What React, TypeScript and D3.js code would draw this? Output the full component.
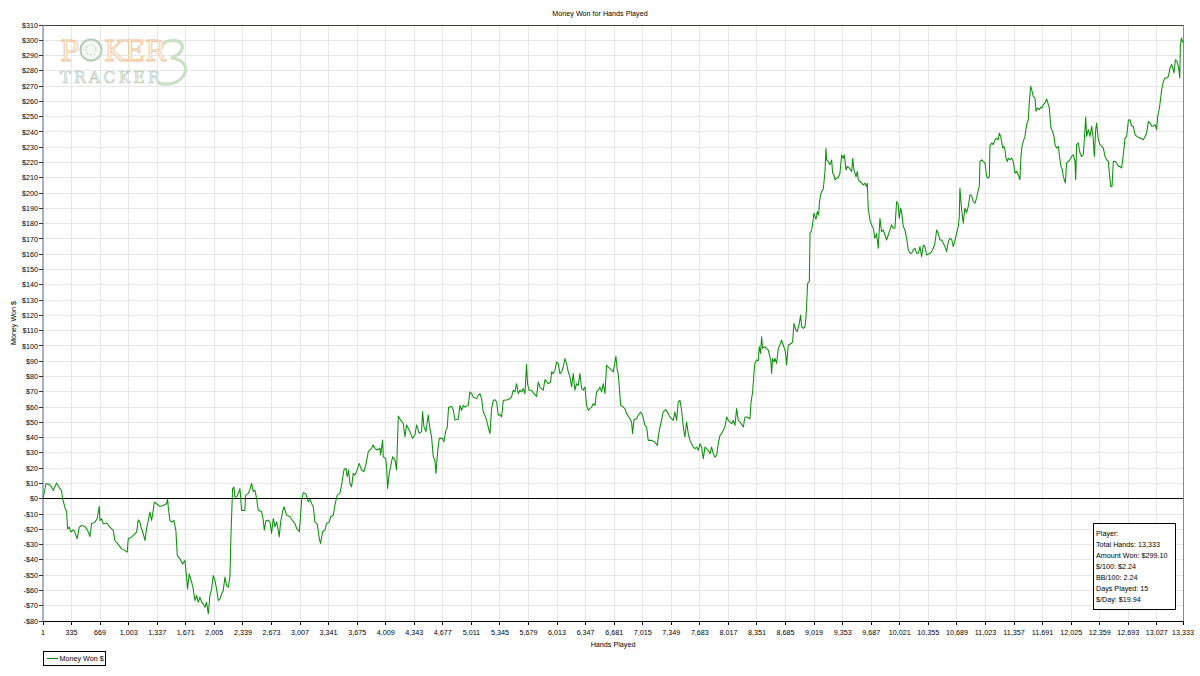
import React from 'react'
import * as d3 from 'd3'

// cumulative winnings (hand number, dollars)
const handsPlayed = [
  1, 35, 74, 101, 121, 160, 199, 218, 230, 257, 277, 289, 308, 327, 355, 374, 401, 425, 452, 491, 523, 550, 569, 608, 635, 659, 667, 686, 706, 745, 784, 823, 842, 881, 920, 959, 986, 998, 1037, 1076, 1096, 1115, 1134, 1154, 1173, 1193, 1212, 1232, 1251, 1271, 1290, 1302, 1329, 1368, 1407, 1446, 1458, 1466, 1485, 1505, 1532, 1555, 1571, 1602, 1634, 1661, 1680, 1692, 1711, 1739, 1758, 1778, 1797, 1817, 1836, 1856, 1875, 1895, 1914, 1934, 1953, 1973, 1992, 2012, 2031, 2051, 2070, 2090, 2109, 2129, 2148, 2168, 2187, 2199, 2218, 2234, 2245, 2265, 2284, 2304, 2312, 2323, 2362, 2370,
  2401, 2421, 2440, 2460, 2479, 2499, 2518, 2557, 2577, 2589, 2608, 2635, 2655, 2674, 2694, 2713, 2733, 2752, 2764, 2780, 2803, 2819, 2850, 2889, 2928, 2947, 2967, 2998, 3006, 3025, 3045, 3076, 3103, 3123, 3142, 3162, 3181, 3208, 3232, 3247, 3271, 3298, 3318, 3349, 3364, 3396, 3415, 3442, 3473, 3493, 3520, 3544, 3559, 3575, 3590, 3610, 3629, 3649, 3668, 3699, 3727, 3754, 3777, 3805, 3844, 3863, 3883, 3910, 3941, 3949, 3973, 3980, 4008, 4019, 4031, 4050, 4070, 4090, 4117, 4136, 4156, 4183, 4214, 4234, 4253, 4292, 4323, 4351, 4370, 4401, 4428, 4440, 4456, 4479, 4506, 4526, 4545, 4565, 4584, 4596, 4616, 4635, 4674, 4690, 4713, 4728, 4744, 4780, 4799, 4818, 4857,
  4877, 4896, 4916, 4935, 4974, 4994, 5013, 5033, 5072, 5091, 5111, 5130, 5150, 5169, 5189, 5208, 5228, 5247, 5267, 5286, 5306, 5325, 5345, 5364, 5384, 5403, 5430, 5462, 5481, 5500, 5520, 5539, 5559, 5578, 5598, 5617, 5637, 5656, 5668, 5684, 5715, 5734, 5773, 5793, 5812, 5851, 5871, 5910, 5937, 5949, 5968, 5988, 6007, 6027, 6046, 6066, 6085, 6105, 6124, 6144, 6163, 6183, 6202, 6222, 6241, 6261, 6280, 6300, 6319, 6339, 6358, 6378, 6397, 6417, 6436, 6456, 6475, 6495, 6514, 6534, 6553, 6573, 6592, 6631, 6670, 6701, 6717, 6728, 6748, 6756, 6787, 6806, 6826, 6865, 6884, 6896, 6912, 6943, 6962, 6990, 7013, 7040, 7060, 7079, 7118, 7157, 7184, 7208, 7235, 7254, 7286, 7313, 7333, 7372, 7391, 7411, 7430, 7450, 7469, 7489, 7508, 7528, 7547, 7567, 7586, 7606, 7625, 7645, 7664, 7684, 7703, 7723, 7742, 7781, 7801, 7820, 7840, 7859, 7879, 7898, 7918, 7937, 7957, 7976, 7996, 8015, 8054, 8074, 8093, 8113, 8132, 8152, 8191, 8210, 8230, 8269,
  8280, 8300, 8315, 8327, 8347, 8366, 8378, 8393, 8405, 8417, 8444, 8463, 8483, 8502, 8514, 8522, 8533, 8549, 8561, 8580, 8600, 8619, 8639, 8658, 8678, 8690, 8697, 8717, 8756, 8768, 8783, 8806, 8822, 8846, 8861, 8873, 8893, 8912, 8924, 8932, 8943, 8963, 8971, 8990, 9002, 9017, 9041, 9056, 9072, 9080, 9095, 9107, 9126, 9146, 9158, 9165, 9185, 9204, 9224, 9236, 9251, 9263, 9282, 9302, 9321, 9341, 9360, 9372, 9392, 9407, 9431, 9458, 9470, 9485, 9509, 9524, 9536, 9555, 9575, 9594, 9614, 9633, 9641, 9652, 9672, 9691, 9711, 9730, 9750, 9769, 9789, 9808, 9828, 9847, 9867, 9886, 9906, 9925, 9945, 9964, 9984, 10003, 10015, 10031, 10042, 10062, 10081, 10101, 10120, 10140, 10159, 10179, 10198, 10218, 10237, 10257, 10276, 10296, 10315, 10335, 10374, 10393, 10413, 10432, 10452, 10471, 10491, 10510, 10530, 10549, 10569, 10588, 10608, 10627, 10647, 10666,
  10685, 10705, 10717, 10724, 10744, 10763, 10771, 10783, 10802, 10822, 10841, 10861, 10880, 10900, 10919, 10939, 10951, 10958, 10978, 10997, 11017, 11036, 11056, 11068, 11075, 11095, 11114, 11134, 11153, 11173, 11185, 11200, 11212, 11224, 11239, 11251, 11263, 11278, 11290, 11309, 11329, 11348, 11368, 11387, 11407, 11426, 11438, 11450, 11465, 11485, 11504, 11524, 11535, 11543, 11551, 11563, 11582, 11602, 11614, 11629, 11653, 11668, 11684, 11699, 11719, 11738, 11758, 11770, 11777, 11789, 11808, 11824, 11836, 11855, 11875, 11894, 11906, 11922, 11933, 11945, 11957, 11972, 11992, 12011, 12031, 12050, 12070, 12078, 12089, 12109, 12128, 12148, 12167, 12187, 12195, 12206, 12226, 12245, 12265, 12284, 12296, 12312, 12323, 12343, 12362, 12382, 12401, 12421, 12440, 12460, 12472, 12487, 12503, 12518, 12538, 12557, 12577, 12596, 12616, 12635, 12655, 12674, 12694, 12713, 12733, 12752, 12772, 12791, 12830, 12869, 12889, 12908, 12928, 12947, 12967, 12986, 13006, 13025, 13037, 13057, 13072, 13084, 13103, 13123, 13142, 13162, 13181, 13201, 13213, 13228, 13244, 13263, 13283, 13295, 13302, 13314, 13330, 13333,
]

const moneyWon = [
  0, 9.8, 9.4, 7.6, 5.5, 10.3, 6.6, 5.5, 0, -5.5, -8.7, -19.7, -18.6, -21.8, -20.3, -21.8, -26.2, -18.6, -17.5, -18.1, -20.7, -24.7, -16.4, -15.3, -13.1, -5.0, -14.2, -13.1, -16.4, -15.9, -18.6, -20.7, -27.3, -29.9, -32.8, -33.8, -34.9, -26.2, -25.1, -22.9, -21.8, -13.8, -15.3, -19.7, -22.9, -27.3, -19.7, -14.2, -8.7, -14.2, -7.6, -2.2, -3.3, -5.0, -4.4, -3.3, 0, -5.5, -14.2, -15.3, -14.2, -20.7, -37.1, -39.3, -42.6, -40.4, -51.3, -59.0, -49.1, -54.6, -59.0, -66.6, -63.3, -67.7, -64.4, -67.7, -68.8, -71.0, -67.7, -75.3, -63.3, -59.0, -50.2, -53.5, -59.0, -66.6, -65.5, -62.2, -60.0, -51.3, -56.8, -57.9, -50.9, -24.0, 6.6, 7.6, 1.1, 1.1, 3.3, 6.6, 1.1, -7.6, -7.6, 2.2,
  3.5, 6.1, 10.0, 4.6, 5.7, 0.2, -7.4, -8.5, -14.0, -20.5, -14.4, -14.0, -15.1, -22.7, -12.9, -18.3, -15.1, -20.5, -24.9, -15.1, -8.5, -5.2, -10.7, -11.8, -15.1, -16.2, -19.4, -21.6, -16.2, -0.9, 3.9, 3.1, -2.0, -0.4, -3.1, -5.2, -15.1, -16.6, -26.0, -29.3, -21.6, -20.5, -16.2, -15.1, -11.8, -10.7, -4.1, 2.4, 3.5, 9.0, 18.8, 19.9, 14.4, 18.8, 10.0, 7.9, 16.6, 15.5, 17.7, 23.1, 18.8, 17.7, 22.1, 30.8, 33.0, 35.2, 33.0, 31.9, 33.0, 28.6, 38.4, 27.5, 26.4, 21.0, 6.8, 16.6, 22.1, 27.5, 25.3, 18.8, 54.1, 51.5, 49.3, 40.6, 48.3, 43.9, 39.5, 41.7, 48.3, 42.8, 43.9, 57.0, 47.2, 43.9, 54.8, 46.1, 40.6, 27.5, 25.3, 16.6, 30.8, 39.5, 39.5, 37.3, 45.0, 46.1, 59.8, 60.3, 58.1, 51.5, 52.0,
  61.1, 57.9, 61.1, 60.0, 61.1, 69.9, 68.8, 66.6, 65.5, 67.7, 68.8, 65.5, 56.8, 54.6, 51.3, 46.9, 42.6, 59.0, 64.4, 64.8, 63.3, 54.6, 55.2, 53.5, 64.4, 64.4, 64.8, 65.5, 66.6, 71.0, 69.9, 75.3, 68.8, 71.0, 69.9, 72.1, 68.8, 88.0, 75.3, 71.0, 71.0, 69.2, 67.0, 76.4, 73.1, 71.0, 77.9, 75.3, 76.4, 83.0, 81.9, 84.1, 89.5, 88.4, 81.9, 83.0, 86.2, 91.7, 88.4, 83.0, 79.7, 73.1, 81.9, 71.0, 75.3, 74.2, 81.9, 72.1, 71.0, 73.1, 61.1, 57.9, 59.0, 60.0, 62.2, 61.1, 69.9, 71.0, 73.1, 69.9, 75.3, 68.8, 87.3, 85.2, 83.0, 93.2, 84.1, 81.9, 67.7, 61.1, 60.0, 59.0, 55.7, 52.4, 50.2, 42.6, 51.7, 52.4, 54.6, 56.8, 54.6, 48.0, 46.9, 38.2, 38.2, 37.1, 34.9, 44.8, 51.3, 56.8, 58.3, 55.7, 53.5, 51.3, 56.8, 51.3, 63.3, 64.4, 57.9, 46.9, 40.4, 50.2, 42.6, 38.2, 36.0, 33.8, 32.8, 33.8, 31.7, 36.0, 33.8, 26.2, 33.8, 31.7, 29.5, 33.8, 29.5, 27.3, 28.4, 36.0, 41.5, 42.6, 44.8, 46.9, 53.5, 51.3, 49.1, 51.3, 48.0, 59.0, 51.3, 50.2, 46.9, 53.5, 53.5, 52.4,
  62.4, 70.0, 82.0, 88.6, 90.8, 90.3, 99.5, 95.1, 106.0, 98.4, 99.5, 98.4, 97.3, 92.9, 89.6, 82.0, 91.8, 89.6, 91.8, 88.6, 98.4, 100.6, 103.8, 100.6, 97.3, 92.9, 87.5, 100.6, 101.7, 102.8, 114.8, 110.4, 109.3, 114.8, 120.2, 112.6, 111.5, 112.6, 119.1, 127.9, 141.0, 142.1, 173.7, 175.9, 180.3, 186.8, 182.9, 187.9, 185.7, 193.4, 198.8, 201.0, 202.5, 214.1, 229.4, 221.7, 220.7, 218.5, 221.7, 213.0, 211.9, 208.6, 209.7, 210.4, 213.0, 225.0, 222.8, 225.0, 215.2, 217.4, 216.3, 214.1, 222.8, 215.2, 210.8, 214.1, 208.6, 207.6, 206.5, 205.4, 206.5, 204.3, 206.5, 190.1, 182.4, 179.2, 177.0, 170.4, 173.7, 163.9, 183.5, 174.8, 175.9, 172.6, 169.3, 172.6, 175.9, 179.2, 177.0, 177.0, 194.5, 192.3, 183.5, 190.1, 187.9, 178.1, 175.9, 170.4, 162.8, 160.6, 160.6, 162.8, 163.9, 160.6, 160.6, 165.0, 158.4, 166.1, 165.0, 159.5, 160.6, 161.7, 163.9, 167.2, 175.9, 173.7, 169.3, 169.3, 167.2, 165.0, 161.7, 168.3, 170.4, 169.8, 165.0, 169.3,
  173.8, 178.2, 184.7, 203.3, 189.1, 180.3, 184.7, 190.2, 187.3, 191.3, 198.9, 198.3, 194.5, 193.4, 196.7, 202.2, 204.4, 220.7, 221.8, 220.7, 219.7, 210.9, 209.8, 210.9, 230.6, 232.8, 231.7, 234.9, 236.0, 234.9, 239.3, 237.1, 233.8, 229.5, 230.6, 228.4, 222.9, 220.7, 222.9, 221.8, 222.9, 220.7, 213.1, 214.2, 212.0, 208.7, 224.0, 230.6, 233.8, 237.1, 244.8, 248.0, 259.0, 264.4, 269.9, 267.7, 263.3, 262.2, 253.5, 255.7, 254.6, 256.3, 255.7, 257.9, 259.0, 261.6, 257.9, 255.7, 250.2, 242.6, 240.4, 237.1, 231.7, 229.5, 230.6, 221.8, 217.5, 215.3, 210.9, 208.7, 206.6, 219.7, 220.7, 221.8, 224.0, 225.1, 220.7, 208.7, 231.7, 232.8, 226.2, 224.0, 225.1, 241.5, 249.8, 237.1, 241.5, 237.1, 243.7, 234.9, 224.0, 241.5, 245.9, 234.9, 231.7, 230.6, 229.5, 224.0, 221.8, 220.7, 213.1, 204.4, 204.4, 220.7, 220.7, 219.7, 217.5, 217.5, 216.4, 225.1, 236.0, 237.1, 247.6, 248.0, 243.7, 243.7, 238.2, 237.1, 236.0, 234.9, 237.1, 239.3, 246.9, 245.9, 243.7, 243.7, 244.8, 241.5, 250.2, 255.7, 262.2, 267.7, 273.1, 275.3, 275.3, 276.4, 281.9, 284.1, 281.9, 278.6, 287.3, 286.2, 281.9, 275.3, 296.1, 301.5, 298.7, 299.1,
]

const xTickHands = [1, 335, 669, 1003, 1337, 1671, 2005, 2339, 2673, 3007, 3341, 3675, 4009, 4343, 4677, 5011, 5345, 5679, 6013, 6347, 6681, 7015, 7349, 7683, 8017, 8351, 8685, 9019, 9353, 9687, 10021, 10355, 10689, 11023, 11357, 11691, 12025, 12359, 12693, 13027, 13333]
const yTickDollars = [-80, -70, -60, -50, -40, -30, -20, -10, 0, 10, 20, 30, 40, 50, 60, 70, 80, 90, 100, 110, 120, 130, 140, 150, 160, 170, 180, 190, 200, 210, 220, 230, 240, 250, 260, 270, 280, 290, 300, 310]

const statsLines = ['Player:', 'Total Hands: 13,333', 'Amount Won: $299.10', '$/100: $2.24', 'BB/100: 2.24', 'Days Played: 15', '$/Day: $19.94']

const W = 1200
const H = 676
const left = 43
const right = 1183
const top = 25
const bottom = 621
const font = '"Liberation Sans", Arial, sans-serif'
const serif = '"DejaVu Serif", "Liberation Serif", serif'
const fs = 7.2

export default function App() {
  const x = d3.scaleLinear().domain([1, 13333]).range([left, right])
  const y = d3.scaleLinear().domain([-80, 310]).range([bottom, top])
  const points = handsPlayed.map((h, i) => [h, moneyWon[i]] as [number, number])
  const line = d3
    .line<[number, number]>()
    .x((d) => x(d[0]))
    .y((d) => y(d[1]))
  const fmtHands = d3.format(',')
  const fmtMoney = (v: number) => (v < 0 ? `-$${-v}` : `$${v}`)

  return (
    <div style={{ position: 'fixed', left: 0, top: 0 }}>
      <svg width={W} height={H} style={{ display: 'block', fontFamily: font }}>
        <rect width={W} height={H} fill="#fff" />

        {/* grid */}
        <g stroke="#e6e6e6" strokeWidth={1} shapeRendering="crispEdges">
          {yTickDollars.map((v) => (
            <line key={'gy' + v} x1={left} x2={right} y1={y(v)} y2={y(v)} />
          ))}
          {xTickHands.map((h) => (
            <line key={'gx' + h} x1={x(h)} x2={x(h)} y1={top} y2={bottom} />
          ))}
        </g>

        {/* watermark logo */}
        <g>
          {/* the swoosh "3" */}
          <path
            d="M162,45 C168,38 185,39 182,49 C180,55 174,57 171,58 C182,59 189,66 184,75 C179,83 169,86 158,83"
            fill="none"
            stroke="#c9e0c4"
            strokeWidth={3.2}
            strokeLinecap="round"
          />
          <text x={60} y={61} fontFamily={serif} fontSize={28} fill="#fff6ee" stroke="#efbf92" strokeWidth={0.8} textLength={19} lengthAdjust="spacingAndGlyphs">
            P
          </text>
          <circle cx={91} cy={50} r={10.5} fill="#f4f8f4" stroke="#b3ccba" strokeWidth={2} />
          <circle cx={91} cy={50} r={5} fill="none" stroke="#c9dccd" strokeWidth={1.2} strokeDasharray="2 1.5" />
          <text x={104} y={61} fontFamily={serif} fontSize={28} fill="#fff6ee" stroke="#efbf92" strokeWidth={0.8} textLength={62} lengthAdjust="spacingAndGlyphs">
            KER
          </text>
          <text x={60} y={82.5} fontFamily={serif} fontSize={16} fill="#f3f7f3" stroke="#bccfbd" strokeWidth={0.7} textLength={100} lengthAdjust="spacing">
            TRACKER
          </text>
        </g>

        {/* plot frame */}
        <line x1={left} x2={right} y1={top} y2={top} stroke="#4a4238" strokeWidth={1} shapeRendering="crispEdges" />
        <line x1={right} x2={right} y1={top} y2={bottom} stroke="#8a8a8a" strokeWidth={1} shapeRendering="crispEdges" />
        <line x1={left} x2={left} y1={top} y2={bottom} stroke="#aab0c4" strokeWidth={2} shapeRendering="crispEdges" />

        {/* zero line */}
        <line x1={left} x2={right} y1={y(0)} y2={y(0)} stroke="#000" strokeWidth={1} shapeRendering="crispEdges" />

        {/* data */}
        <path d={line(points) || ''} fill="none" stroke="#0d8f0d" strokeWidth={1.05} strokeLinejoin="round" />

        {/* x axis */}
        <line x1={left - 1} x2={right} y1={bottom} y2={bottom} stroke="#000" strokeWidth={1} shapeRendering="crispEdges" />
        <g fontSize={fs} fill="#000" textAnchor="middle">
          {xTickHands.map((h) => (
            <g key={'tx' + h}>
              <line x1={x(h)} x2={x(h)} y1={bottom} y2={bottom + 4} stroke="#000" shapeRendering="crispEdges" />
              <text x={x(h)} y={635}>
                {fmtHands(h)}
              </text>
            </g>
          ))}
        </g>

        {/* y axis */}
        <g fontSize={fs} fill="#000" textAnchor="end">
          {yTickDollars.map((v) => (
            <g key={'ty' + v}>
              <line x1={left - 4} x2={left} y1={y(v)} y2={y(v)} stroke="#333" shapeRendering="crispEdges" />
              <text x={38} y={y(v) + 2.6}>
                {fmtMoney(v)}
              </text>
            </g>
          ))}
        </g>

        {/* titles */}
        <text x={600} y={16} fontSize={fs} textAnchor="middle" fill="#000">
          Money Won for Hands Played
        </text>
        <text x={613} y={647} fontSize={fs} textAnchor="middle" fill="#000">
          Hands Played
        </text>
        <text transform={`translate(16, ${(top + bottom) / 2}) rotate(-90)`} fontSize={fs} textAnchor="middle" fill="#000">
          Money Won $
        </text>

        {/* stats box */}
        <rect x={1093.5} y={523.5} width={82} height={86} fill="#fff" stroke="#000" strokeWidth={1} />
        <g fontSize={fs} fill="#000">
          {statsLines.map((s, i) => (
            <text key={s} x={1096} y={536 + i * 11}>
              {s}
            </text>
          ))}
        </g>

        {/* legend */}
        <rect x={43.5} y={651.5} width={62} height={14} fill="#fff" stroke="#000" strokeWidth={1} />
        <line x1={47} x2={58} y1={658.5} y2={658.5} stroke="#0d8f0d" strokeWidth={1.2} />
        <text x={59.5} y={661} fontSize={fs} fill="#000">
          Money Won $
        </text>
      </svg>
    </div>
  )
}
